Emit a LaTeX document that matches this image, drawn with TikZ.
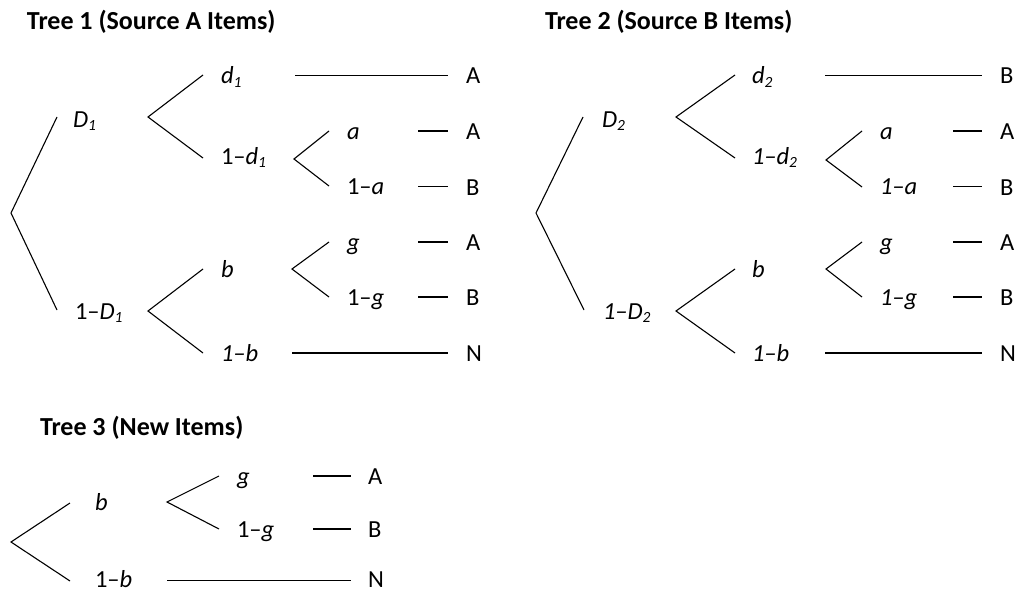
\documentclass[tikz,border=0pt]{standalone}
\usepackage{fontspec}
\setmainfont{Carlito}
\newcommand\sbs[1]{\raisebox{-0.16em}{\fontsize{15.5}{15.5}\selectfont\itshape #1}}
\begin{document}
\begin{tikzpicture}[x=1pt,y=-1pt,
  lbl/.style={anchor=base west,inner sep=0pt,outer sep=0pt,text depth=0pt,font=\fontsize{24.5}{28}\selectfont},
  ttl/.style={anchor=base west,inner sep=0pt,outer sep=0pt,font=\fontsize{26}{30}\selectfont\bfseries},
  edge/.style={line width=1.1pt,black}]
\useasboundingbox (0,0) rectangle (1015,594);

% ---------------- Tree 1 ----------------
\node[ttl] (T1) at (27,30) {Tree 1 (Source A Items)};
\coordinate (r1v) at (11,213); \coordinate (r1t) at (57,117); \coordinate (r1b) at (57,310);
\node[lbl] (aD1) at (73,127) {\textit{D}\sbs{1}};
\node[lbl] (anD1) at (75,319) {1–\textit{D}\sbs{1}};
\draw[edge] (r1t) -- (r1v) -- (r1b);

\coordinate (a1v) at (148,117); \coordinate (a1u) at (203,75); \coordinate (a1l) at (203,158);
\draw[edge] (a1u) -- (a1v) -- (a1l);
\node[lbl] (ad1) at (221,84) {\textit{d}\sbs{1}};
\node[lbl] (and1) at (221,164) {1–\textit{d}\sbs{1}};
\coordinate (al1s) at (295,75.5); \coordinate (al1e) at (448,75.5);
\draw[edge] (al1s) -- (al1e);
\node[lbl] (aL1) at (466,84) {A};

\coordinate (as1v) at (294,159); \coordinate (as1u) at (329,131); \coordinate (as1l) at (329,186);
\draw[edge] (as1u) -- (as1v) -- (as1l);
\node[lbl] (aa) at (347,139) {\textit{a}};
\node[lbl] (ana) at (347,194) {1–\textit{a}};
\coordinate (al2s) at (418,131); \coordinate (al2e) at (448,131);
\coordinate (al3s) at (418,186.5); \coordinate (al3e) at (448,186.5);
\draw[edge] (al2s) -- (al2e);
\draw[edge] (al3s) -- (al3e);
\node[lbl] (aL2) at (466,139.5) {A};
\node[lbl] (aL3) at (466,195) {B};

\coordinate (a2v) at (148,311); \coordinate (a2u) at (203,269); \coordinate (a2l) at (203,353);
\draw[edge] (a2u) -- (a2v) -- (a2l);
\node[lbl] (ab) at (221,277) {\textit{b}};
\node[lbl] (anb) at (221,361) {\textit{1–b}};
\coordinate (as2v) at (292,269); \coordinate (as2u) at (329,242); \coordinate (as2l) at (329,297);
\draw[edge] (as2u) -- (as2v) -- (as2l);
\node[lbl] (ag) at (347,250) {\textit{g}};
\node[lbl] (ang) at (347,305) {1–\textit{g}};
\coordinate (al4s) at (418,242); \coordinate (al4e) at (448,242);
\coordinate (al5s) at (418,297); \coordinate (al5e) at (448,297);
\draw[edge] (al4s) -- (al4e);
\draw[edge] (al5s) -- (al5e);
\node[lbl] (aL4) at (466,250.5) {A};
\node[lbl] (aL5) at (466,305.5) {B};
\coordinate (al6s) at (292,353); \coordinate (al6e) at (448,353);
\draw[edge] (al6s) -- (al6e);
\node[lbl] (aL6) at (466,361.5) {N};

% ---------------- Tree 2 ----------------
\node[ttl] (T2) at (545,30) {Tree 2 (Source B Items)};
\coordinate (r2v) at (536,213); \coordinate (r2t) at (583,117); \coordinate (r2b) at (584,310);
\draw[edge] (r2t) -- (r2v) -- (r2b);
\node[lbl] (bD2) at (602,127) {\textit{D}\sbs{2}};
\node[lbl] (bnD2) at (603,319) {\textit{1–D}\sbs{2}};

\coordinate (b1v) at (676,117); \coordinate (b1u) at (735,75); \coordinate (b1l) at (735,158);
\draw[edge] (b1u) -- (b1v) -- (b1l);
\node[lbl] (bd2) at (752,84) {\textit{d}\sbs{2}};
\node[lbl] (bnd2) at (752,164) {\textit{1–d}\sbs{2}};
\coordinate (bl1s) at (825,75.5); \coordinate (bl1e) at (982,75.5);
\draw[edge] (bl1s) -- (bl1e);
\node[lbl] (bL1) at (1000,84) {B};

\coordinate (bs1v) at (826,160); \coordinate (bs1u) at (862,131); \coordinate (bs1l) at (862,187);
\draw[edge] (bs1u) -- (bs1v) -- (bs1l);
\node[lbl] (ba) at (880,139) {\textit{a}};
\node[lbl] (bna) at (880,194) {\textit{1–a}};
\coordinate (bl2s) at (953,131); \coordinate (bl2e) at (982,131);
\coordinate (bl3s) at (953,186.5); \coordinate (bl3e) at (982,186.5);
\draw[edge] (bl2s) -- (bl2e);
\draw[edge] (bl3s) -- (bl3e);
\node[lbl] (bL2) at (1000,139.5) {A};
\node[lbl] (bL3) at (1000,195) {B};

\coordinate (b2v) at (676,311); \coordinate (b2u) at (735,269); \coordinate (b2l) at (735,353);
\draw[edge] (b2u) -- (b2v) -- (b2l);
\node[lbl] (bb) at (752,277) {\textit{b}};
\node[lbl] (bnb) at (752,361) {\textit{1–b}};
\coordinate (bs2v) at (826,269); \coordinate (bs2u) at (862,242); \coordinate (bs2l) at (862,297);
\draw[edge] (bs2u) -- (bs2v) -- (bs2l);
\node[lbl] (bg) at (880,250) {\textit{g}};
\node[lbl] (bng) at (880,305) {\textit{1–g}};
\coordinate (bl4s) at (953,242); \coordinate (bl4e) at (982,242);
\coordinate (bl5s) at (953,297); \coordinate (bl5e) at (982,297);
\draw[edge] (bl4s) -- (bl4e);
\draw[edge] (bl5s) -- (bl5e);
\node[lbl] (bL4) at (1000,250.5) {A};
\node[lbl] (bL5) at (1000,305.5) {B};
\coordinate (bl6s) at (825,353); \coordinate (bl6e) at (982,353);
\draw[edge] (bl6s) -- (bl6e);
\node[lbl] (bL6) at (1000,361.5) {N};

% ---------------- Tree 3 ----------------
\node[ttl] (T3) at (40,435.5) {Tree 3 (New Items)};
\coordinate (r3v) at (11,542); \coordinate (r3u) at (70,503); \coordinate (r3l) at (70,581);
\draw[edge] (r3u) -- (r3v) -- (r3l);
\node[lbl] (cb) at (95,510) {\textit{b}};
\node[lbl] (cnb) at (95,587.5) {1–\textit{b}};
\coordinate (c1v) at (167,502); \coordinate (c1u) at (219,476); \coordinate (c1l) at (219,529);
\draw[edge] (c1u) -- (c1v) -- (c1l);
\node[lbl] (cg) at (237,484) {\textit{g}};
\node[lbl] (cng) at (237,537) {1–\textit{g}};
\coordinate (cl1s) at (313,476); \coordinate (cl1e) at (351,476);
\coordinate (cl2s) at (313,529); \coordinate (cl2e) at (351,529);
\draw[edge] (cl1s) -- (cl1e);
\draw[edge] (cl2s) -- (cl2e);
\node[lbl] (cL1) at (368,484.5) {A};
\node[lbl] (cL2) at (368,537.5) {B};
\coordinate (cl3s) at (167,580.5); \coordinate (cl3e) at (351,580.5);
\draw[edge] (cl3s) -- (cl3e);
\node[lbl] (cL3) at (368,587.5) {N};
\end{tikzpicture}
\end{document}
